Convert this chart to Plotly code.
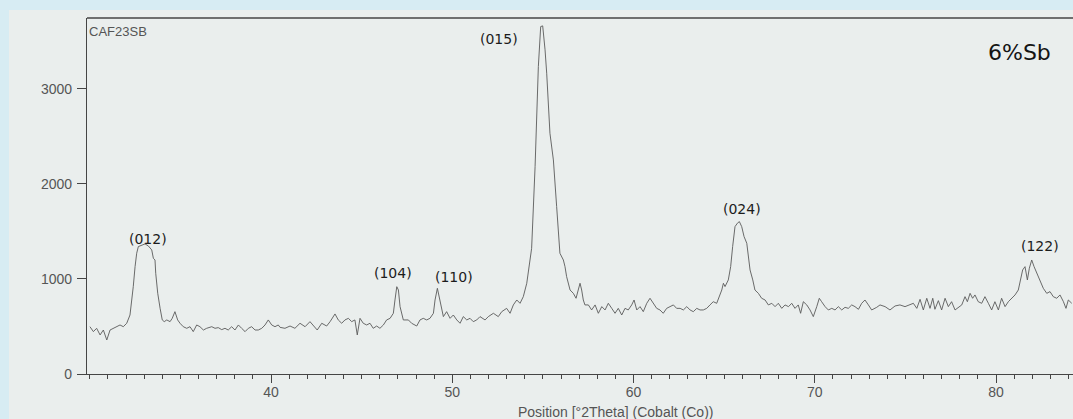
import plotly.graph_objects as go

two_theta = [
    30.01, 30.20, 30.38, 30.57, 30.75, 30.94, 31.12, 31.30, 31.49, 31.67, 31.85, 32.04,
    32.22, 32.31, 32.40, 32.50, 32.59, 32.68, 32.87, 33.05, 33.23, 33.42, 33.51, 33.60,
    33.64, 33.75, 33.88, 34.00, 34.11, 34.25, 34.43, 34.55, 34.70, 34.85, 34.98, 35.16,
    35.35, 35.53, 35.71, 35.90, 36.08, 36.27, 36.45, 36.73, 36.91, 37.09, 37.28, 37.46,
    37.64, 37.83, 38.01, 38.20, 38.38, 38.57, 38.75, 38.93, 39.12, 39.30, 39.49, 39.67,
    39.85, 40.04, 40.22, 40.40,
    40.50, 40.77, 41.05, 41.32, 41.60, 41.88, 42.15, 42.33, 42.55, 42.80, 43.07, 43.26,
    43.53, 43.71, 43.90, 44.08, 44.27, 44.45, 44.63, 44.76, 44.91, 45.09, 45.28, 45.46,
    45.64, 45.83, 46.01, 46.20, 46.38, 46.57, 46.75, 46.84, 46.94, 47.03, 47.12, 47.30,
    47.58, 47.76, 48.04, 48.22, 48.40, 48.59, 48.77, 48.96, 49.05, 49.18, 49.32, 49.51,
    49.69, 49.88, 50.06, 50.25, 50.43, 50.61, 50.80, 50.98, 51.16, 51.35, 51.53, 51.81,
    51.99, 52.27, 52.54, 52.73, 53.00, 53.19, 53.37, 53.56, 53.74, 53.92, 54.11, 54.25,
    54.38, 54.57, 54.75, 54.88, 54.99, 55.12, 55.21, 55.39, 55.58, 55.76, 55.94, 56.13,
    56.22, 56.31, 56.50, 56.68, 56.83, 56.95, 57.05, 57.14, 57.23, 57.32, 57.51, 57.69,
    57.88, 58.06, 58.25, 58.43, 58.61, 58.80, 58.98, 59.16, 59.35, 59.53, 59.71, 59.90,
    60.03, 60.18, 60.36, 60.54, 60.73, 60.91, 61.09, 61.28, 61.46, 61.64, 61.83, 62.01,
    62.20, 62.38, 62.57, 62.75, 62.94, 63.12, 63.30, 63.49, 63.67, 63.85, 64.04, 64.22,
    64.40, 64.59, 64.73, 64.87, 64.96, 65.05, 65.23, 65.36, 65.47, 65.60, 65.73, 65.84,
    65.97, 66.10, 66.25, 66.34, 66.43, 66.58, 66.70, 66.89, 67.07, 67.26, 67.44, 67.63,
    67.81, 67.99, 68.18, 68.36, 68.55, 68.73, 68.91, 69.09,
    69.22, 69.37, 69.56, 69.74, 69.92, 70.11, 70.25, 70.38, 70.57, 70.75, 70.94, 71.12,
    71.30, 71.49, 71.67, 71.85, 72.04, 72.22, 72.41, 72.59, 72.77, 72.96, 73.14, 73.42,
    73.60, 73.88, 74.15, 74.43, 74.70, 74.98, 75.26, 75.44, 75.63, 75.81, 75.99, 76.18,
    76.36, 76.51, 76.63, 76.82, 77.00, 77.19, 77.37, 77.55, 77.74, 77.92, 78.11, 78.29,
    78.42, 78.57, 78.71, 78.84, 79.02, 79.21, 79.39, 79.58, 79.76, 79.94, 80.13, 80.31,
    80.50, 80.68, 80.87, 81.05, 81.23, 81.36, 81.47, 81.60, 81.73, 81.84, 81.97, 82.10,
    82.25, 82.43, 82.61, 82.80, 82.98, 83.16, 83.35, 83.53, 83.72, 83.86, 83.99, 84.18,
]

intensity = [
    498, 446, 481, 411, 463, 358, 463, 481, 498, 516, 498, 534,
    621, 744, 919, 1130, 1271, 1341, 1358, 1369, 1348, 1306, 1218, 1200,
    1060, 850, 692, 569, 551, 569, 551, 586, 656, 569, 534, 498,
    481, 498, 446, 516, 498, 463, 481, 498, 481, 488, 467, 481,
    463, 498, 463, 516, 481, 446, 481, 498, 463, 463, 481, 516,
    569, 516, 498, 516,
    491, 481, 505, 481, 534, 498, 551, 516, 463, 534, 505, 551,
    632, 569, 534, 569, 586, 551, 569, 411, 586, 534, 516, 534,
    481, 505, 481, 516, 569, 586, 639, 779, 919, 884, 709, 569,
    569, 534, 505, 569, 586, 569, 586, 639, 779, 902, 779, 604,
    656, 586, 621, 569, 534, 604, 569, 586, 551, 569, 604, 569,
    604, 639, 604, 656, 691, 639, 727, 779, 744, 814, 955, 1130,
    1323, 2183, 3236, 3657, 3664, 3412, 3166, 2534, 2253, 1762, 1271, 1200,
    1130, 1025, 884, 849, 797, 884, 955, 884, 779, 727, 727, 674,
    727, 639, 709, 674, 744, 691, 639, 691, 621, 691, 674, 727,
    779, 674, 709, 656, 744, 797, 744, 691, 674, 639, 691, 709,
    727, 691, 691, 674, 709, 674, 656, 691, 674, 674, 691, 727,
    761, 744, 814, 884, 955, 920, 990, 1130, 1341, 1551, 1587, 1604,
    1551, 1446, 1376, 1235, 1095, 990, 884, 849, 797, 779, 727, 744,
    709, 744, 691, 727, 709, 744, 691, 727,
    639, 761, 727, 674, 604, 709, 797, 761, 709, 674, 691, 674,
    709, 674, 702, 691, 727, 709, 681, 744, 779, 727, 674, 702,
    727, 709, 674, 716, 727, 709, 727, 744, 691, 786, 674, 797,
    691, 797, 681, 772, 674, 797, 709, 761, 674, 702, 727, 814,
    761, 849, 797, 832, 761, 744, 814, 744, 674, 761, 674, 797,
    709, 761, 797, 832, 884, 990, 1095, 1130, 990, 1113, 1200, 1130,
    1060, 990, 902, 849, 867, 814, 797, 832, 761, 691, 779, 744,
]

x_ticks = [40, 50, 60, 70, 80]
y_ticks = [0, 1000, 2000, 3000]

peak_labels = ["(012)", "(104)", "(110)", "(015)", "(024)", "(122)"]
label_2theta = [33.21, 46.73, 50.10, 52.58, 65.99, 82.43]
label_level = [1422, 1064, 1021, 3528, 1737, 1348]

sample_name = "CAF23SB"
sample_tag = "6%Sb"
x_title = "Position [°2Theta] (Cobalt (Co))"

# ---- figure ----
axis_col = "#454545"
tick_col = "#555555"
page_blue = "#d7ecf3"

fig = go.Figure()
fig.add_trace(go.Scatter(
    x=two_theta, y=intensity, mode="lines",
    line=dict(color="#5a5a5a", width=0.9),
    showlegend=False, hoverinfo="x+y",
))

# scanned paper background
fig.add_shape(type="rect", xref="paper", yref="paper",
              x0=-0.0791, x1=1.02, y0=-0.2, y1=1.0225,
              fillcolor="#eaeeed", line=dict(width=0), layer="below")
# top frame line
fig.add_shape(type="line", xref="paper", yref="paper",
              x0=0, x1=1, y0=1, y1=1, line=dict(color=axis_col, width=1.3))

annotations = []
for lab, xx, yy in zip(peak_labels, label_2theta, label_level):
    annotations.append(dict(x=xx, y=yy, xref="x", yref="y", text=lab, showarrow=False,
                            xanchor="center", yanchor="middle",
                            font=dict(family="DejaVu Sans", size=14, color="#1c1c1c")))
annotations.append(dict(x=0.0, y=0.9607, xref="paper", yref="paper", text=sample_name,
                        showarrow=False, xanchor="left", yanchor="middle",
                        font=dict(family="Liberation Sans", size=13, color="#555555")))
annotations.append(dict(x=0.946, y=0.9017, xref="paper", yref="paper", text=sample_tag,
                        showarrow=False, xanchor="center", yanchor="middle",
                        font=dict(family="DejaVu Sans", size=22, color="#141414")))
annotations.append(dict(x=0.5365, y=-0.106, xref="paper", yref="paper", text=x_title,
                        showarrow=False, xanchor="center", yanchor="middle",
                        font=dict(family="Liberation Sans", size=14, color="#555555")))

fig.update_layout(
    width=1073, height=419,
    margin=dict(l=87, r=0, t=18, b=45),
    paper_bgcolor=page_blue,
    plot_bgcolor="rgba(0,0,0,0)",
    annotations=annotations,
    xaxis=dict(
        range=[29.848, 84.248], tickvals=x_ticks,
        ticks="outside", ticklen=8, tickwidth=1.2, tickcolor=axis_col,
        ticklabelstandoff=-3,
        minor=dict(dtick=1, tick0=30, ticks="outside", ticklen=4, tickwidth=1, tickcolor=axis_col, showgrid=False),
        showline=True, linecolor=axis_col, linewidth=1.3,
        showgrid=False, zeroline=False,
        tickfont=dict(family="Liberation Sans", size=14, color=tick_col),
    ),
    yaxis=dict(
        range=[0, 3747], tickvals=y_ticks,
        ticks="outside", ticklen=9, tickwidth=1.2, tickcolor=axis_col,
        ticklabelstandoff=2,
        showline=True, linecolor=axis_col, linewidth=1.3,
        showgrid=False, zeroline=False,
        tickfont=dict(family="Liberation Sans", size=14, color=tick_col),
    ),
)

fig.write_html(
    "out.html",
    config={"displayModeBar": False},
    post_script=("document.body.style.margin='0';"
                 "document.body.style.overflow='hidden';"
                 "document.body.style.background='" + page_blue + "';"),
)
